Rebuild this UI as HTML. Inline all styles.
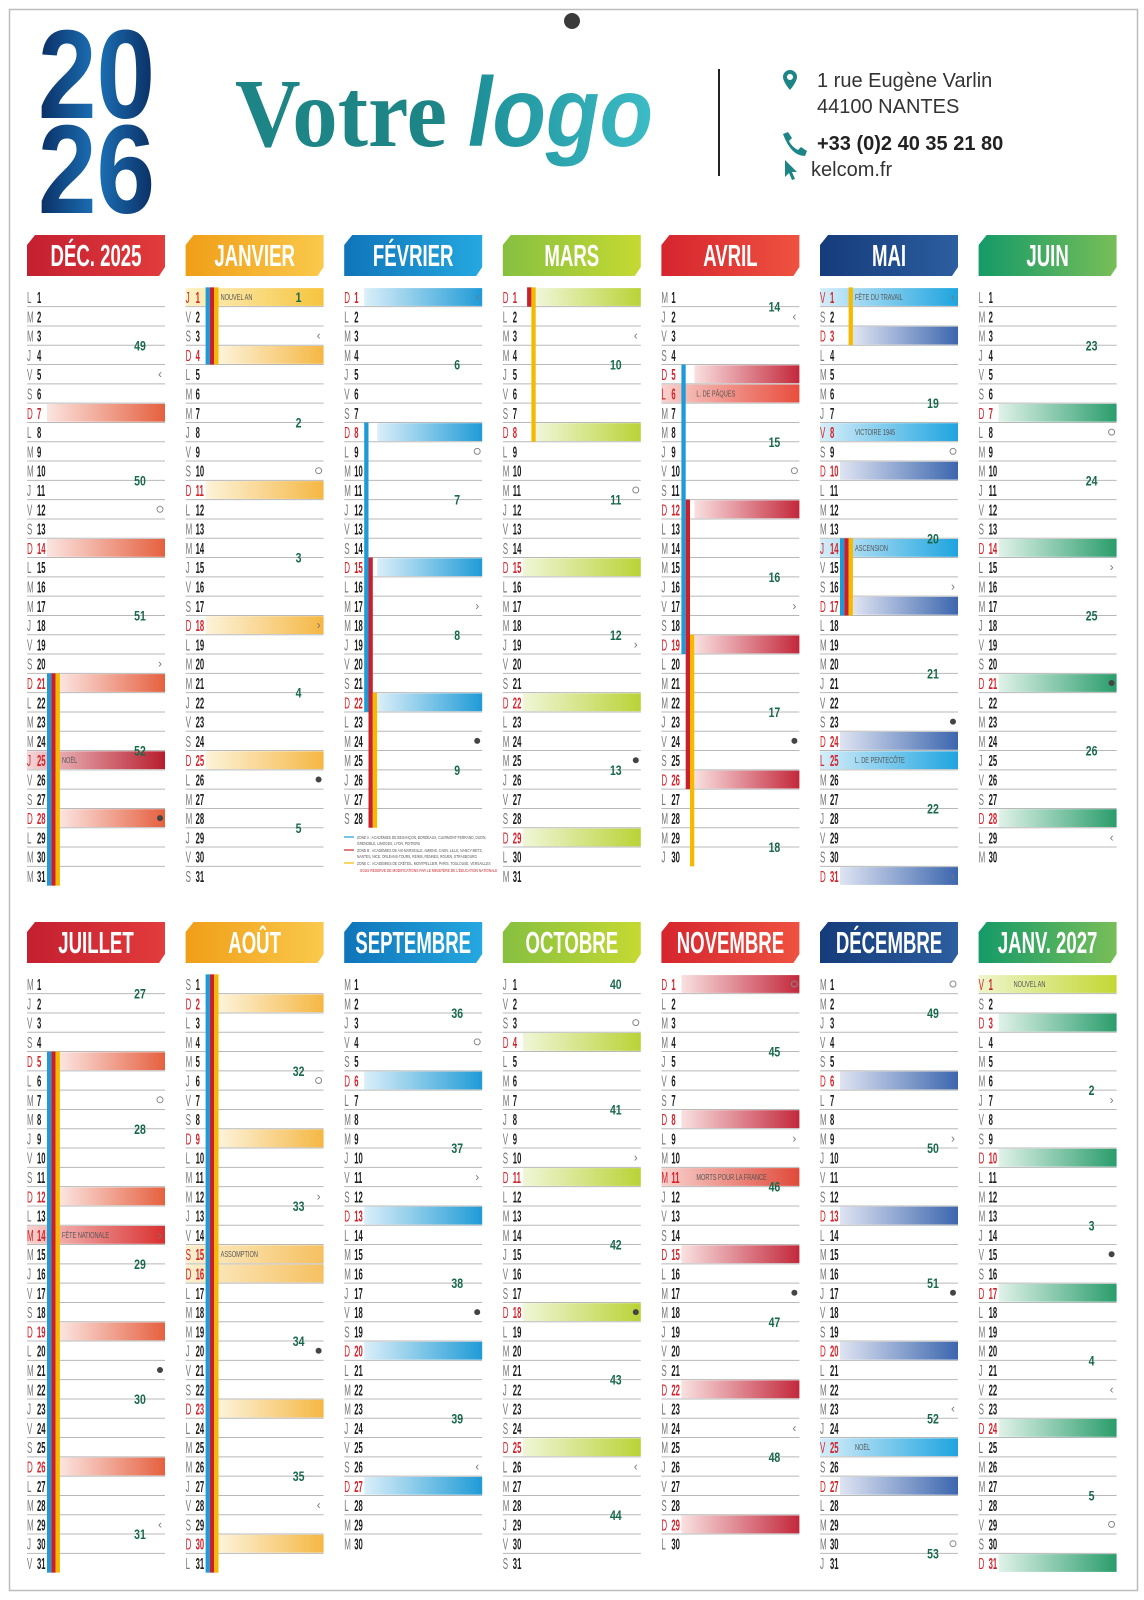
<!DOCTYPE html>
<html lang="fr"><head><meta charset="utf-8"><title>Calendrier 2026</title>
<style>
html,body{margin:0;padding:0;background:#fff;}
#wrap{position:relative;width:1144px;height:1600px;overflow:hidden;background:#fff;}
svg text{font-family:"Liberation Sans",sans-serif;}
</style></head>
<body>
<div id="wrap">
<svg id="cal" width="1144" height="1600" viewBox="0 0 1144 1600" xmlns="http://www.w3.org/2000/svg">
<defs>
<linearGradient id="yearGrad" x1="0" y1="0" x2="1" y2="0">
<stop offset="0" stop-color="#0a2d62"/><stop offset="0.5" stop-color="#1c72b8"/><stop offset="1" stop-color="#0a2d62"/>
</linearGradient>
<linearGradient id="logoGrad" x1="0" y1="0" x2="1" y2="0">
<stop offset="0" stop-color="#1c8e96"/><stop offset="1" stop-color="#3cbcc6"/>
</linearGradient>
</defs>
<rect x="9.5" y="9.5" width="1128" height="1581" fill="#fff" stroke="#bdbdbd" stroke-width="1.5"/>
<circle cx="572" cy="21" r="8" fill="#3a3a3a"/>
<g>
<text x="38" y="118" font-size="126" font-weight="bold" fill="url(#yearGrad)" textLength="117" lengthAdjust="spacingAndGlyphs">20</text>
<text x="38" y="213" font-size="126" font-weight="bold" fill="url(#yearGrad)" textLength="117" lengthAdjust="spacingAndGlyphs">26</text>
</g>
<g>
<text x="235" y="146" font-size="98" font-weight="bold" fill="#1e8587" style="font-family:'Liberation Serif',serif" textLength="212" lengthAdjust="spacingAndGlyphs">Votre</text>
<text x="468" y="146" font-size="98" font-weight="bold" font-style="italic" fill="url(#logoGrad)" textLength="185" lengthAdjust="spacingAndGlyphs">logo</text>
</g>
<line x1="719" y1="69" x2="719" y2="176" stroke="#222" stroke-width="2"/>
<g>
<path d="M790 70 a7 7 0 0 1 7 7 c0 5 -7 13 -7 13 c0 0 -7 -8 -7 -13 a7 7 0 0 1 7 -7z M790 74 a3 3 0 1 0 0.01 0z" fill="#1e8587" fill-rule="evenodd"/>
<text x="817" y="87" font-size="20" fill="#333">1 rue Eugène Varlin</text>
<text x="817" y="113" font-size="20" fill="#333">44100 NANTES</text>
<path d="M783 134 l5 -2 l4 6 l-3 3 q3 6 9 9 l3 -3 l6 4 l-2 5 q-14 0 -22 -22z" fill="#1e8587"/>
<text x="817" y="150" font-size="20" font-weight="bold" fill="#222">+33 (0)2 40 35 21 80</text>
<path d="M785 160 l0 17 l4 -4 l3 7 l3 -1 l-3 -7 l5 0z" fill="#1e8587"/>
<text x="811" y="176" font-size="20" fill="#333">kelcom.fr</text>
</g>
<g id="months"></g>
<g font-size="4.6" fill="#555">
<line x1="344" y1="837" x2="354" y2="837" stroke="#1e9bd7" stroke-width="1.2"/>
<text transform="translate(357,839) scale(0.72,1)">ZONE A : ACADÉMIES DE BESANÇON, BORDEAUX, CLERMONT-FERRAND, DIJON,</text>
<text transform="translate(357,845) scale(0.72,1)">GRENOBLE, LIMOGES, LYON, POITIERS</text>
<line x1="344" y1="850" x2="354" y2="850" stroke="#d2232a" stroke-width="1.2"/>
<text transform="translate(357,852) scale(0.72,1)">ZONE B : ACADÉMIES DE AIX-MARSEILLE, AMIENS, CAEN, LILLE, NANCY-METZ,</text>
<text transform="translate(357,858) scale(0.72,1)">NANTES, NICE, ORLÉANS-TOURS, REIMS, RENNES, ROUEN, STRASBOURG</text>
<line x1="344" y1="863" x2="354" y2="863" stroke="#f5b900" stroke-width="1.2"/>
<text transform="translate(357,865) scale(0.72,1)">ZONE C : ACADÉMIES DE CRÉTEIL, MONTPELLIER, PARIS, TOULOUSE, VERSAILLES</text>
<text transform="translate(360,872) scale(0.72,1)" fill="#d2232a">SOUS RÉSERVE DE MODIFICATIONS PAR LE MINISTÈRE DE L'ÉDUCATION NATIONALE</text>
</g>
</svg>
</div>
<script>
const monthNames = ['DÉC. 2025','JANVIER','FÉVRIER','MARS','AVRIL','MAI','JUIN','JUILLET','AOÛT','SEPTEMBRE','OCTOBRE','NOVEMBRE','DÉCEMBRE','JANV. 2027'];
const monthYears = [2025,2026,2026,2026,2026,2026,2026,2026,2026,2026,2026,2026,2026,2027];
const monthIndex = [11,0,1,2,3,4,5,6,7,8,9,10,11,0];
const weekOffset = [0,0,0,0,0,0,0,0,0,0,0,0,0,1];
const bannerDark = ['#c41f30','#f09e17','#0f74b9','#86c040','#d5252e','#153b7a','#149a68','#c41f30','#f09e17','#0f74b9','#86c040','#d5252e','#153b7a','#149a68'];
const bannerLight = ['#e23c3c','#fac94c','#25a8e0','#c6d932','#ef5240','#2c5ea0','#78be58','#e23c3c','#fac94c','#25a8e0','#c6d932','#ef5240','#2c5ea0','#78be58'];
const sunLight = ['#fbe4e0','#fdf3da','#dbeff9','#f0f6d8','#f9e0e0','#dfe4f2','#e0f2e9','#fbe4e0','#fdf3da','#dbeff9','#f0f6d8','#f9e0e0','#dfe4f2','#e0f2e9'];
const sunDark = ['#e5603f','#f5b744','#1f9bd6','#b9d336','#c3283b','#3c66ae','#2a9d6c','#e5603f','#f5b744','#1f9bd6','#b9d336','#c3283b','#3c66ae','#2a9d6c'];
const holPanel = [0,1,4,5,5,5,5,7,8,8,11,12,13];
const holDay   = [25,1,6,1,8,14,25,14,15,16,11,25,1];
const holLabel = ['NOËL','NOUVEL AN','L. DE PÂQUES','FÊTE DU TRAVAIL','VICTOIRE 1945','ASCENSION','L. DE PENTECÔTE','FÊTE NATIONALE','ASSOMPTION','','MORTS POUR LA FRANCE','NOËL','NOUVEL AN'];
const holLight = ['#f5d6d8','#fdf2c4','#f8d2cf','#d6eefa','#d6eefa','#d6eefa','#d6eefa','#f8d2cf','#fdf0cf','#fdf0cf','#f8d2cf','#d6eefa','#eef5cc'];
const holDark  = ['#b81e2e','#f6c43e','#e84d3d','#1ea4df','#1ea4df','#1ea4df','#1ea4df','#d93030','#f5c060','#f5c060','#e04a3a','#1ea4df','#c3d733'];
const vacPanel = [0,0,0,1,1,1,2,2,2,3,3,4,4,4,5,5,5,5,7,7,7,8,8,8];
const vacZone  = [0,1,2,0,1,2,0,1,2,1,2,0,1,2,2,0,1,2,0,1,2,0,1,2];
const vacStart = [21,21,21,1,1,1,8,15,22,1,1,5,12,19,1,14,14,14,5,5,5,1,1,1];
const vacEnd   = [31,31,31,4,4,4,22,28,28,1,8,19,26,30,3,17,17,17,31,31,31,31,31,31];
const zoneColors = ['#1e9bd7','#c8202f','#f5b900'];
const moonPanel = [0,0,0,0,1,1,1,1,2,2,2,2,3,3,3,3,4,4,4,4,5,5,5,5,5,6,6,6,6,7,7,7,7,8,8,8,8,9,9,9,9,10,10,10,10,11,11,11,11,12,12,12,12,12,13,13,13,13];
const moonDay   = [5,12,20,28,3,10,18,26,1,9,17,24,3,11,19,25,2,10,17,24,1,9,16,23,31,8,15,21,29,7,14,21,29,6,12,20,28,4,11,18,26,3,10,18,26,1,9,17,24,1,9,17,23,30,7,15,22,29];
const moonType  = ['q','o','l','n','q','o','l','n','q','o','l','n','q','o','l','n','q','o','l','n','q','o','l','n','q','o','l','n','q','o','l','n','q','o','l','n','q','o','l','n','q','o','l','n','q','o','l','n','q','o','l','n','q','o','l','n','q','o'];
const dayLetters = ['L','M','M','J','V','S','D'];

const NS='http://www.w3.org/2000/svg';
const svg=document.getElementById('cal');
const defs=svg.querySelector('defs');
const root=document.getElementById('months');
const PITCH=19.3, COLW=158.6, W=138;
function mk(tag,attrs,parent){const e=document.createElementNS(NS,tag);for(const k in attrs)e.setAttribute(k,attrs[k]);(parent||root).appendChild(e);return e;}
function txt(parent,x,y,sx,attrs,s){const a=Object.assign({transform:`translate(${x},${y}) scale(${sx},1)`},attrs);const e=mk('text',a,parent);e.textContent=s;return e;}
function grad(id,c1,c2){const g=mk('linearGradient',{id:id,x1:'0',y1:'0',x2:'1',y2:'0'},defs);mk('stop',{offset:'0','stop-color':c1},g);mk('stop',{offset:'1','stop-color':c2},g);}
function isoWeek(dt){const d=new Date(Date.UTC(dt.getFullYear(),dt.getMonth(),dt.getDate()));const dn=(d.getUTCDay()+6)%7;d.setUTCDate(d.getUTCDate()-dn+3);const fy=new Date(Date.UTC(d.getUTCFullYear(),0,4));return 1+Math.round(((d-fy)/86400000-3+((fy.getUTCDay()+6)%7))/7);}
function colX(p){return 27+(p%7)*COLW;}
function rowY(p,d){return (p<7?297:984)+(d-1)*PITCH;}

for(let p=0;p<monthNames.length;p++){
  const x0=colX(p), by=p<7?235:922;
  grad('ban'+p,bannerDark[p],bannerLight[p]);
  grad('sun'+p,sunLight[p],sunDark[p]);
  const g=mk('g',{});
  
  
  const ban=mk('polygon',{points:`${x0},${by+10} ${x0+8},${by} ${x0+W},${by} ${x0+W},${by+32} ${x0+W-6},${by+41} ${x0},${by+41}`,fill:`url(#ban${p})`},g);
  
  
  const bt=txt(g,x0+W/2,by+31,0.6,{'font-size':31,'font-weight':'bold',fill:'#fff','text-anchor':'middle'},monthNames[p]);
  
  
  const y=monthYears[p], m=monthIndex[p];
  const nd=new Date(y,m+1,0).getDate();
  for(let d=1;d<nd;d++){const ly=rowY(p,d)+PITCH/2;const ln=mk('line',{x1:x0,y1:ly,x2:x0+W,y2:ly,stroke:'#b8b8b8','stroke-width':1},g);}
  for(let d=1;d<=nd;d++){
    const dt=new Date(y,m,d), dow=(dt.getDay()+6)%7, cy=rowY(p,d);
    let hi=-1;for(let i=0;i<holPanel.length;i++)if(holPanel[i]===p&&holDay[i]===d)hi=i;
    let striped=false;for(let i=0;i<vacPanel.length;i++)if(vacPanel[i]===p&&d>=vacStart[i]&&d<=vacEnd[i])striped=true;
    if(hi>=0){
      grad('hol'+p+'_'+d,holLight[hi],holDark[hi]);
      const r=mk('rect',{x:x0,y:cy-8.9,width:W,height:17.8,fill:`url(#hol${p}_${d})`},g);
      
      
      if(holLabel[hi]){const lt=txt(g,x0+35,cy+3,0.7,{'font-size':8,fill:'#555'},holLabel[hi]);}
    } else if(dow===6){
      const sx=x0+(striped?33:20);
      const r=mk('rect',{x:sx,y:cy-8.9,width:x0+W-sx,height:17.8,fill:`url(#sun${p})`},g);
      
      
    }
    const red=(dow===6||hi>=0);
    const t1=txt(g,x0,cy+6,0.5,{'font-size':16,fill:red?'#d2232a':'#777'},dayLetters[dow]);
    
    
    const t2=txt(g,x0+10,cy+6,0.48,{'font-size':16,'font-weight':'bold',fill:red?'#d2232a':'#1d1d1d'},String(d));
    
    
    if(dow===3){
      const ty=d===1?cy:cy-PITCH/2;
      const wt=txt(g,x0+113,ty+5,0.75,{'font-size':14,'font-weight':'bold',fill:'#17694a','text-anchor':'middle'},String(isoWeek(dt)+weekOffset[p]));
      
      
    }
  }
  for(let i=0;i<vacPanel.length;i++){
    if(vacPanel[i]!==p)continue;
    const z=vacZone[i], y1=rowY(p,vacStart[i])-PITCH/2, y2=rowY(p,vacEnd[i])+PITCH/2;
    const s=mk('rect',{x:x0+20+z*4.3,y:y1,width:4.3,height:y2-y1,fill:zoneColors[z]},g);
    
    
  }
  for(let i=0;i<moonPanel.length;i++){
    if(moonPanel[i]!==p)continue;
    const cy=rowY(p,moonDay[i]), mx=x0+133, tp=moonType[i];
    let e;
    if(tp==='o') e=mk('circle',{cx:mx,cy:cy,r:3,fill:'none',stroke:'#888','stroke-width':1},g);
    else if(tp==='n') e=mk('circle',{cx:mx,cy:cy,r:3,fill:'#444'},g);
    else {e=mk('text',{x:mx,y:cy+4,'font-size':12,fill:'#777','text-anchor':'middle'},g);e.textContent=tp==='q'?'‹':'›';}
    
    
  }
}
</script>
</body></html>
